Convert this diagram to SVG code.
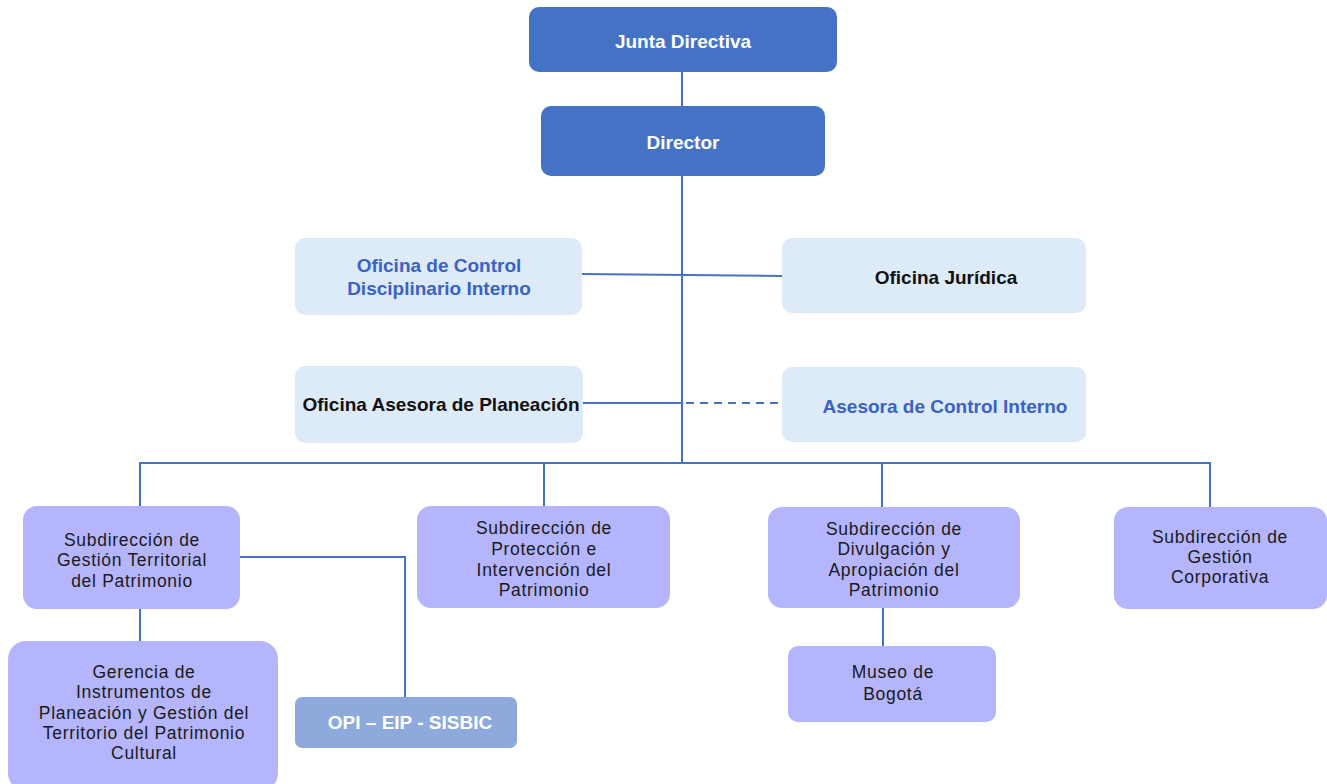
<svg xmlns="http://www.w3.org/2000/svg" width="1327" height="784" viewBox="0 0 1327 784">
<style>
.dark{fill:#4472c4}
.light{fill:#ddeaf8}
.sub{fill:#b4b5fc}
.opi{fill:#8eaadc}
.tw{font-family:"Liberation Sans",Arial,sans-serif;font-weight:bold;font-size:19px;fill:#ffffff;text-anchor:middle}
.tb{font-family:"Liberation Sans",Arial,sans-serif;font-weight:bold;font-size:19px;fill:#3a62c6;text-anchor:middle}
.tk{font-family:"Liberation Sans",Arial,sans-serif;font-weight:bold;font-size:19px;fill:#111111;text-anchor:middle}
.ts{font-family:"Liberation Sans",Arial,sans-serif;font-size:17.5px;letter-spacing:0.7px;fill:#1a1a1a;text-anchor:middle}
.c{fill:none;stroke:#4472c4;stroke-width:2}
.d{fill:none;stroke:#4472c4;stroke-width:2;stroke-dasharray:8,6}
</style>
<rect width="1327" height="784" fill="#ffffff"/>
<g id="connectors">
<line class="c" x1="682" y1="72" x2="682" y2="106"/>
<line class="c" x1="682" y1="176" x2="682" y2="464"/>
<line class="c" x1="582" y1="274" x2="782" y2="276"/>
<line class="c" x1="583" y1="403" x2="682" y2="403"/>
<line class="d" x1="686" y1="403" x2="782" y2="403"/>
<polyline class="c" points="140,506 140,463 1210,463 1210,507"/>
<line class="c" x1="544" y1="463" x2="544" y2="506"/>
<line class="c" x1="882" y1="463" x2="882" y2="507"/>
<line class="c" x1="140" y1="609" x2="140" y2="641"/>
<polyline class="c" points="240,557 405,557 405,697"/>
<line class="c" x1="883" y1="608" x2="883" y2="646"/>
</g>
<g id="junta"><rect class="dark" x="529" y="7" width="308" height="65" rx="10"/><text class="tw" x="683" y="48">Junta Directiva</text></g>
<g id="director"><rect class="dark" x="541" y="106" width="284" height="70" rx="10"/><text class="tw" x="683" y="149">Director</text></g>
<g id="control-disciplinario"><rect class="light" x="295" y="238" width="287" height="77" rx="10"/><text class="tb" x="439" y="272">Oficina de Control</text><text class="tb" x="439" y="295">Disciplinario Interno</text></g>
<g id="juridica"><rect class="light" x="782" y="238" width="304" height="75" rx="10"/><text class="tk" x="946" y="284">Oficina Jurídica</text></g>
<g id="planeacion"><rect class="light" x="295" y="366" width="288" height="77" rx="10"/><text class="tk" x="441" y="411">Oficina Asesora de Planeación</text></g>
<g id="control-interno"><rect class="light" x="782" y="367" width="304" height="75" rx="10"/><text class="tb" x="945" y="413">Asesora de Control Interno</text></g>
<g id="gestion-territorial"><rect class="sub" x="23" y="506" width="217" height="103" rx="14"/><text class="ts" x="132" y="546">Subdirección de</text><text class="ts" x="132" y="566">Gestión Territorial</text><text class="ts" x="132" y="587">del Patrimonio</text></g>
<g id="proteccion"><rect class="sub" x="417" y="506" width="253" height="102" rx="14"/><text class="ts" x="544" y="534">Subdirección de</text><text class="ts" x="544" y="555">Protección e</text><text class="ts" x="544" y="576">Intervención del</text><text class="ts" x="544" y="596">Patrimonio</text></g>
<g id="divulgacion"><rect class="sub" x="768" y="507" width="252" height="101" rx="14"/><text class="ts" x="894" y="535">Subdirección de</text><text class="ts" x="894" y="555">Divulgación y</text><text class="ts" x="894" y="576">Apropiación  del</text><text class="ts" x="894" y="596">Patrimonio</text></g>
<g id="corporativa"><rect class="sub" x="1114" y="507" width="213" height="102" rx="14"/><text class="ts" x="1220" y="543">Subdirección de</text><text class="ts" x="1220" y="563">Gestión</text><text class="ts" x="1220" y="583">Corporativa</text></g>
<g id="gerencia"><rect class="sub" x="8" y="641" width="270" height="150" rx="18"/><text class="ts" x="144" y="678">Gerencia de</text><text class="ts" x="144" y="698">Instrumentos de</text><text class="ts" x="144" y="719">Planeación y Gestión del</text><text class="ts" x="144" y="739">Territorio del Patrimonio</text><text class="ts" x="144" y="759">Cultural</text></g>
<g id="opi"><rect class="opi" x="295" y="697" width="222" height="51" rx="7"/><text class="tw" x="410" y="729">OPI – EIP - SISBIC</text></g>
<g id="museo"><rect class="sub" x="788" y="646" width="208" height="76" rx="10"/><text class="ts" x="893" y="678">Museo de</text><text class="ts" x="893" y="700">Bogotá</text></g>
</svg>
